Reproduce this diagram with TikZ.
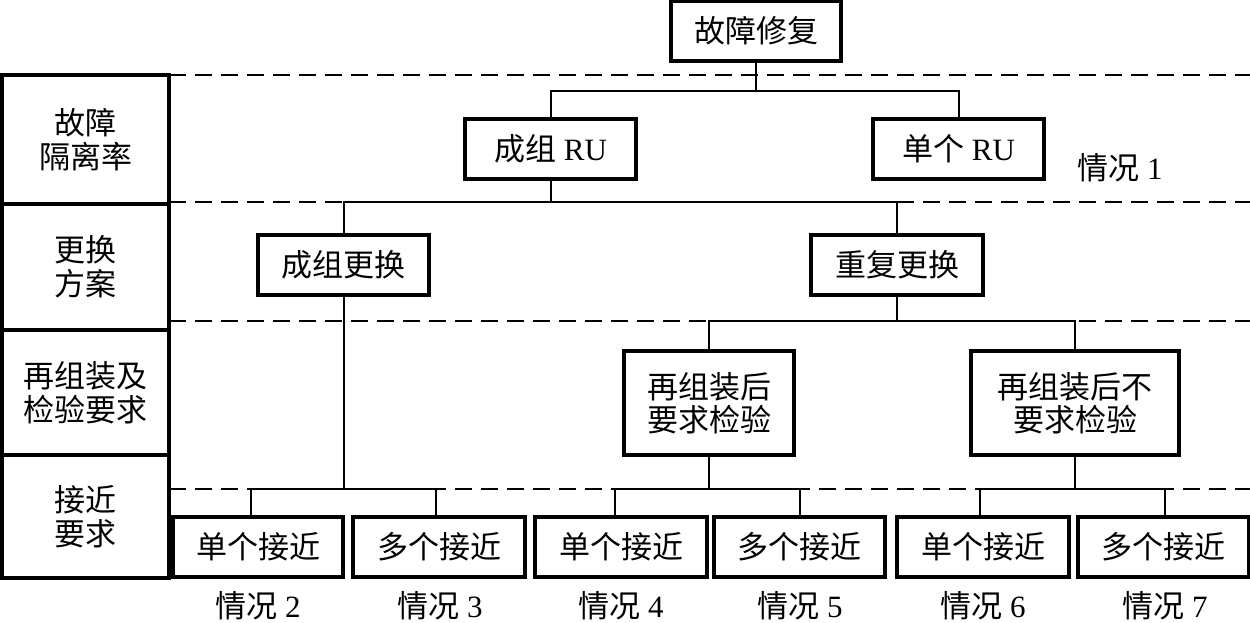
\documentclass[tikz,border=0pt]{standalone}
\usepackage{fontspec}
\setmainfont{Liberation Serif}
\newfontfamily\cjk{Noto Sans CJK SC}
\newcommand\zh[1]{{\cjk #1}}
\begin{document}
\begin{tikzpicture}[x=1pt,y=-1pt,
  box/.style={draw,line width=3.4pt,minimum height=60pt,inner sep=0pt,align=center,font=\fontsize{31}{33}\selectfont},
  cell/.style={draw,line width=3.4pt,minimum width=167pt,inner sep=0pt,align=center,font=\fontsize{31}{34}\selectfont},
  lbl/.style={inner sep=0pt,font=\fontsize{31}{33}\selectfont},
  conn/.style={line width=2pt},
  sep/.style={line width=2pt,dash pattern=on 17pt off 9pt}]
\useasboundingbox (0,0) rectangle (1250,623);
% dashed level separators
\coordinate (d1a) at (169,75);  \coordinate (d1b) at (1250,75);
\coordinate (d2a) at (169,202); \coordinate (d2b) at (1250,202);
\coordinate (d3a) at (169,321); \coordinate (d3b) at (1250,321);
\coordinate (d4a) at (169,489); \coordinate (d4b) at (1250,489);
\draw[sep] (d1a) -- (d1b);
\draw[sep] (d2a) -- (d2b);
\draw[sep] (d3a) -- (d3b);
\draw[sep] (d4a) -- (d4b);
% left column
\node[cell,minimum height=129pt] (c1) at (85.5,139.5) {\zh{故障}\\\zh{隔离率}};
\node[cell,minimum height=126pt] (c2) at (85.5,267) {\zh{更换}\\\zh{方案}};
\node[cell,minimum height=125pt] (c3) at (85.5,392.5) {\zh{再组装及}\\\zh{检验要求}};
\node[cell,minimum height=123pt] (c4) at (85.5,516.5) {\zh{接近}\\\zh{要求}};
% tree nodes
\node[box,minimum width=170pt] (top) at (756,31) {\zh{故障修复}};
\node[box,minimum width=171pt] (grp) at (550.5,149) {\zh{成组} RU};
\node[box,minimum width=171pt] (one) at (958.5,149) {\zh{单个} RU};
\node[lbl] (s1) at (1120,168) {\zh{情况} 1};
\node[box,minimum width=171pt] (grep) at (343.5,265) {\zh{成组更换}};
\node[box,minimum width=172pt] (rep) at (897,265) {\zh{重复更换}};
\node[box,minimum width=170pt,minimum height=104pt] (chk) at (709,403) {\zh{再组装后}\\\zh{要求检验}};
\node[box,minimum width=208pt,minimum height=104pt] (nochk) at (1075,403) {\zh{再组装后不}\\\zh{要求检验}};
\node[box,minimum width=170pt] (a1) at (258,547) {\zh{单个接近}};
\node[box,minimum width=172pt] (a2) at (439,547) {\zh{多个接近}};
\node[box,minimum width=172pt] (a3) at (621,547) {\zh{单个接近}};
\node[box,minimum width=171pt] (a4) at (799.5,547) {\zh{多个接近}};
\node[box,minimum width=172pt] (a5) at (983,547) {\zh{单个接近}};
\node[box,minimum width=171pt] (a6) at (1163.5,547) {\zh{多个接近}};
\node[lbl] (s2) at (258,606) {\zh{情况} 2};
\node[lbl] (s3) at (440,606) {\zh{情况} 3};
\node[lbl] (s4) at (621,606) {\zh{情况} 4};
\node[lbl] (s5) at (800,606) {\zh{情况} 5};
\node[lbl] (s6) at (983,606) {\zh{情况} 6};
\node[lbl] (s7) at (1165,606) {\zh{情况} 7};
% branch points
\coordinate (b1) at (756,91);
\coordinate (b2) at (550.5,202);
\coordinate (b3) at (897,321);
\coordinate (b4) at (343.5,489);
\coordinate (b5) at (709,489);
\coordinate (b6) at (1075,489);
% connectors
\draw[conn] (top.south) -- (b1);
\draw[conn] (grp.north) |- (b1) -| (one.north);
\draw[conn] (grp.south) -- (b2);
\draw[conn] (grep.north) |- (b2) -| (rep.north);
\draw[conn] (rep.south) -- (b3);
\draw[conn] (chk.north) |- (b3) -| (nochk.north);
\draw[conn] (grep.south) -- (b4);
\draw[conn] ([xshift=-7pt]a1.north) |- (b4) -| ([xshift=-3pt]a2.north);
\draw[conn] (chk.south) -- (b5);
\draw[conn] ([xshift=-6pt]a3.north) |- (b5) -| ([xshift=0.5pt]a4.north);
\draw[conn] (nochk.south) -- (b6);
\draw[conn] ([xshift=-3pt]a5.north) |- (b6) -| ([xshift=1.5pt]a6.north);
\end{tikzpicture}
\end{document}
